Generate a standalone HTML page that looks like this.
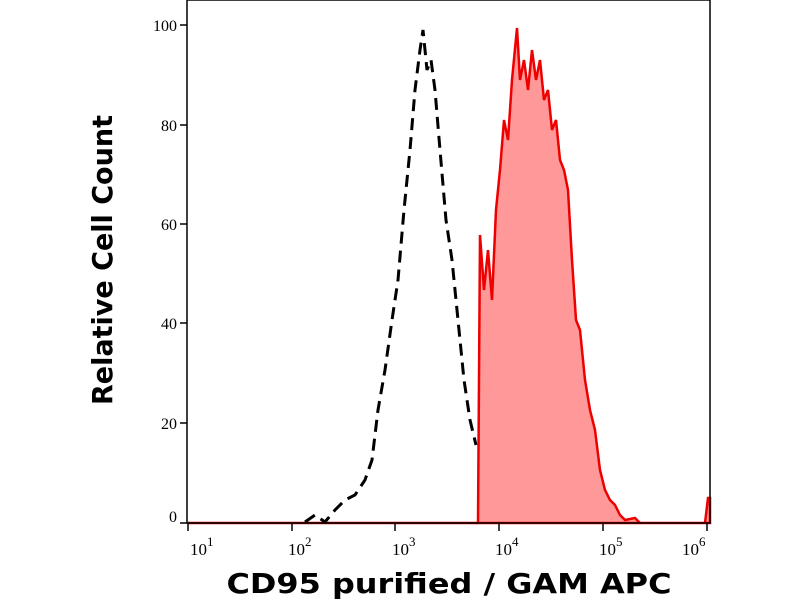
<!DOCTYPE html>
<html><head><style>body{margin:0;background:#fff}</style></head><body>
<svg width="800" height="600" xmlns="http://www.w3.org/2000/svg">
<rect width="800" height="600" fill="#fff"/>
<path d="M478,523 L480,235 L484,290 L488,250 L492,300 L496,210 L500,170 L504,120 L508,140 L512,80 L517,28 L520,80 L524,60 L528,90 L532,50 L536,80 L540,60 L544,100 L548,90 L552,130 L556,120 L560,160 L564,170 L568,190 L572,260 L576,320 L580,330 L585,380 L590,410 L595,430 L600,470 L605,490 L610,500 L615,505 L620,515 L625,520 L635,518 L640,523 L705,523 L708,498 L710,498 L710,523 Z" fill="#f99" stroke="#e00" stroke-width="2.5"/>
<path d="M188,523 L478,523" stroke="#c00" stroke-width="2.5"/>
<path d="M305,522 L315,515 L325,522 L335,510 L345,500 L355,495 L365,480 L372,460 L378,410 L385,370 L392,320 L398,280 L404,210 L410,150 L415,90 L420,50 L423,30 L427,70 L431,60 L435,90 L440,150 L446,220 L452,260 L458,320 L464,380 L470,420 L476,445" fill="none" stroke="#000" stroke-width="3" stroke-dasharray="12,7"/>
<rect x="187" y="0" width="523" height="523" fill="none" stroke="#000" stroke-width="1.5"/>
<g stroke="#000" stroke-width="1.5">
<line x1="180" y1="25" x2="187" y2="25"/><line x1="180" y1="125" x2="187" y2="125"/><line x1="180" y1="224" x2="187" y2="224"/><line x1="180" y1="323" x2="187" y2="323"/><line x1="180" y1="423" x2="187" y2="423"/><line x1="180" y1="523" x2="187" y2="523"/>
<line x1="188" y1="523" x2="188" y2="531"/><line x1="292" y1="523" x2="292" y2="531"/><line x1="395" y1="523" x2="395" y2="531"/><line x1="499" y1="523" x2="499" y2="531"/><line x1="603" y1="523" x2="603" y2="531"/><line x1="707" y1="523" x2="707" y2="531"/>
</g>
<g font-family="Liberation Serif, serif" font-size="16" text-anchor="end" fill="#000">
<text x="177" y="31">100</text><text x="177" y="131">80</text><text x="177" y="230">60</text><text x="177" y="329">40</text><text x="177" y="429">20</text><text x="177" y="522">0</text>
</g>
<g font-family="Liberation Serif, serif" font-size="17" fill="#000">
<text x="190" y="555">10<tspan font-size="13" dy="-9">1</tspan></text>
<text x="288" y="555">10<tspan font-size="13" dy="-9">2</tspan></text>
<text x="392" y="555">10<tspan font-size="13" dy="-9">3</tspan></text>
<text x="495" y="555">10<tspan font-size="13" dy="-9">4</tspan></text>
<text x="599" y="555">10<tspan font-size="13" dy="-9">5</tspan></text>
<text x="682" y="555">10<tspan font-size="13" dy="-9">6</tspan></text>
</g>
<text x="449" y="593" font-family="DejaVu Sans, sans-serif" font-weight="bold" font-size="28" text-anchor="middle" textLength="445" lengthAdjust="spacingAndGlyphs">CD95 purified / GAM APC</text>
<text transform="translate(112,260) rotate(-90)" font-family="DejaVu Sans, sans-serif" font-weight="bold" font-size="28" text-anchor="middle" textLength="290" lengthAdjust="spacingAndGlyphs">Relative Cell Count</text>
</svg>
</body></html>
